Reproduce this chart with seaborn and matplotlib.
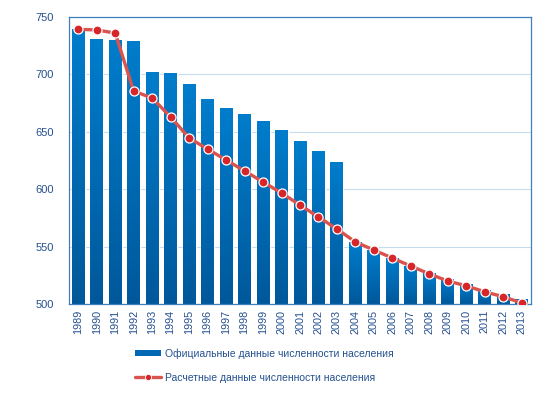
import numpy as np
import pandas as pd
import matplotlib
matplotlib.use("Agg")
import matplotlib.pyplot as plt
import seaborn as sns
from matplotlib.lines import Line2D
from matplotlib.patches import Patch
from matplotlib.colors import LinearSegmentedColormap

years = [str(y) for y in range(1989, 2014)]
official = [739.3, 730.8, 730.0, 729.0, 702.0, 701.0, 691.6, 678.6, 670.7, 665.5,
            659.4, 651.6, 642.0, 633.3, 623.7, 554.0, 547.0, 540.0, 533.0, 527.0,
            521.8, 517.5, 512.3, 508.8, 504.5]
estimated = [739.3, 738.7, 736.0, 685.5, 679.4, 662.9, 644.6, 635.0, 625.4, 615.9,
             606.3, 596.7, 586.2, 575.8, 565.3, 554.0, 547.0, 540.0, 533.0, 526.2,
             520.0, 515.8, 510.6, 506.3, 501.0]
label_bar = "Официальные данные численности населения"
label_line = "Расчетные данные численности населения"

df = pd.DataFrame({"year": years, "official": official, "estimated": estimated})

sns.set_theme(style="white")
plt.rcParams['font.family'] = ['Liberation Sans', 'DejaVu Sans']
txt_color = "#24508f"

fig = plt.figure(figsize=(5.45, 3.96), dpi=100)
ax = fig.add_axes([69/545, 1-304/396, (531-69)/545, (304-17)/396])

sns.barplot(data=df, x="year", y="official", color="#0070c0", width=0.7,
            saturation=1, ax=ax, zorder=2)

grad = np.linspace(0, 1, 256).reshape(-1, 1)
cmap = LinearSegmentedColormap.from_list("g", ["#00589a", "#007dcc"])
for p in ax.patches:
    x0, y0 = p.get_x(), p.get_y()
    w, h = p.get_width(), p.get_height()
    im = ax.imshow(grad, extent=[x0, x0 + w, 500, y0 + h], origin="lower",
                   cmap=cmap, aspect="auto", zorder=2.5)
    im.set_clip_path(p)

sns.pointplot(data=df, x="year", y="estimated", color="#d64541", markers="o",
              linewidth=2.4, markersize=6.5, markeredgecolor="white",
              markeredgewidth=0.9, ax=ax, zorder=4)
for ln in ax.lines:
    ln.set_zorder(4)
    ln.set_color("#d9534f")
    ln.set_markerfacecolor("#d7262a")
    ln.set_markeredgecolor("white")

ax.set_xlim(-0.5, 24.5)
ax.set_ylim(500, 750)
ax.set_yticks([500, 550, 600, 650, 700, 750])
ax.yaxis.grid(True, color="#c6dcef", linewidth=0.8, zorder=0)
ax.set_axisbelow(True)
ax.set_xlabel("")
ax.set_ylabel("")
for s in ax.spines.values():
    s.set_visible(True)
    s.set_color("#3f7fbf")
    s.set_linewidth(0.9)
ax.tick_params(axis="x", labelrotation=90, labelsize=7.8, colors=txt_color, length=0, pad=4)
ax.tick_params(axis="y", labelsize=8, colors=txt_color, length=0, pad=11)

handles = [Patch(facecolor="#0068b4", edgecolor="none"),
           Line2D([0], [0], color="#d9534f", lw=2.4, marker="o", markersize=4.5,
                  markerfacecolor="#d7262a", markeredgecolor="white", markeredgewidth=0.6)]
leg = fig.legend(handles, [label_bar, label_line], loc="center",
                 bbox_to_anchor=(0.485, 0.077), frameon=False, fontsize=7.5,
                 labelspacing=1.35, handlelength=2.5, handleheight=0.5,
                 handletextpad=0.3)
for t in leg.get_texts():
    t.set_color(txt_color)

fig.savefig("out.png", dpi=100)
